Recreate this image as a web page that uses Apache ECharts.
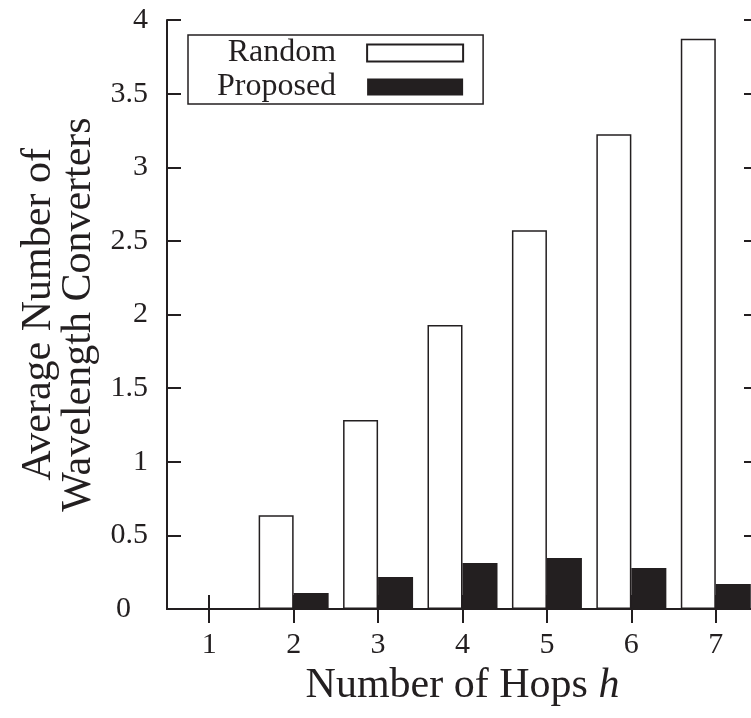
<!DOCTYPE html>
<html>
<head>
<meta charset="utf-8">
<script src="https://cdn.jsdelivr.net/npm/echarts@6/dist/echarts.min.js"></script>
<style>
  html, body { margin: 0; padding: 0; background: #fff; }
  #chart { width: 751px; height: 718px; }
</style>
</head>
<body>
<div id="chart"></div>
<script>
// values
const hops = ['1', '2', '3', '4', '5', '6', '7'];
const randomValues = [0, 0.636, 1.283, 1.929, 2.573, 3.224, 3.873];
const proposedValues = [0, 0.108, 0.217, 0.312, 0.346, 0.278, 0.17];
const seriesNames = ['Random', 'Proposed'];

const ink = '#231f20';
const serif = 'Liberation Serif';

function renderChart() {
    const myChart = echarts.init(document.getElementById('chart'), null, { renderer: 'canvas' });

    const tickStyle = { show: true, inside: true, length: 14, lineStyle: { color: ink, width: 2 } };
    const lineStyle = { show: true, lineStyle: { color: ink, width: 2 } };

    const option = {
        animation: false,
        backgroundColor: '#fff',
        // the plot runs past the right edge of the picture, as in the reference
        grid: { left: 167, top: 20, width: 591, height: 589, outerBoundsMode: 'none', containLabel: false },
        legend: {
            data: seriesNames,
            orient: 'vertical',
            align: 'right',
            left: 188,
            top: 35,
            padding: [2, 19, 1, 29],
            itemGap: 2,
            itemWidth: 96,
            itemHeight: 17,
            icon: 'rect',
            borderColor: ink,
            borderWidth: 1.5,
            textStyle: { fontFamily: serif, fontSize: 32, color: ink, lineHeight: 31, padding: [0, 26, 0, 0] }
        },
        xAxis: [{
            type: 'category',
            data: hops,
            position: 'bottom',
            axisLine: lineStyle,
            axisTick: Object.assign({ alignWithLabel: true }, tickStyle),
            axisLabel: { fontFamily: serif, fontSize: 30, color: ink, margin: 21 },
            name: 'Number of Hops {i|h}',
            nameLocation: 'middle',
            nameGap: 51,
            nameTextStyle: {
                fontFamily: serif, fontSize: 42, color: ink,
                rich: { i: { fontFamily: serif, fontSize: 42, fontStyle: 'italic', color: ink } }
            }
        }, {
            type: 'category',
            data: hops,
            position: 'top',
            axisLine: lineStyle,
            axisTick: Object.assign({ alignWithLabel: true }, tickStyle),
            axisLabel: { show: false }
        }],
        yAxis: [{
            type: 'value',
            min: 0,
            max: 4,
            interval: 0.5,
            position: 'left',
            axisLine: lineStyle,
            axisTick: tickStyle,
            splitLine: { show: false },
            axisLabel: {
                fontFamily: serif, fontSize: 30, color: ink, margin: 19,
                formatter: v => v === 0 ? '{z|0}' : String(v),
                rich: { z: { fontFamily: serif, fontSize: 30, color: ink, padding: [0, 17, 0, 0] } }
            },
            name: 'Average Number of\nWavelength Converters',
            nameLocation: 'middle',
            nameRotate: 90,
            nameGap: 63,
            nameTextStyle: { fontFamily: serif, fontSize: 42, color: ink, lineHeight: 40 }
        }, {
            type: 'value',
            min: 0,
            max: 4,
            interval: 0.5,
            position: 'right',
            axisLine: lineStyle,
            axisTick: tickStyle,
            splitLine: { show: false },
            axisLabel: { show: false }
        }],
        series: [{
            name: seriesNames[0],
            type: 'bar',
            data: randomValues,
            barWidth: 35,
            barGap: '0%',
            itemStyle: { color: '#fff', borderColor: ink, borderWidth: 1.5 }
        }, {
            name: seriesNames[1],
            type: 'bar',
            data: proposedValues,
            barWidth: 35,
            barGap: '0%',
            itemStyle: { color: ink }
        }]
    };

    myChart.setOption(option);
}

renderChart();
</script>
</body>
</html>
